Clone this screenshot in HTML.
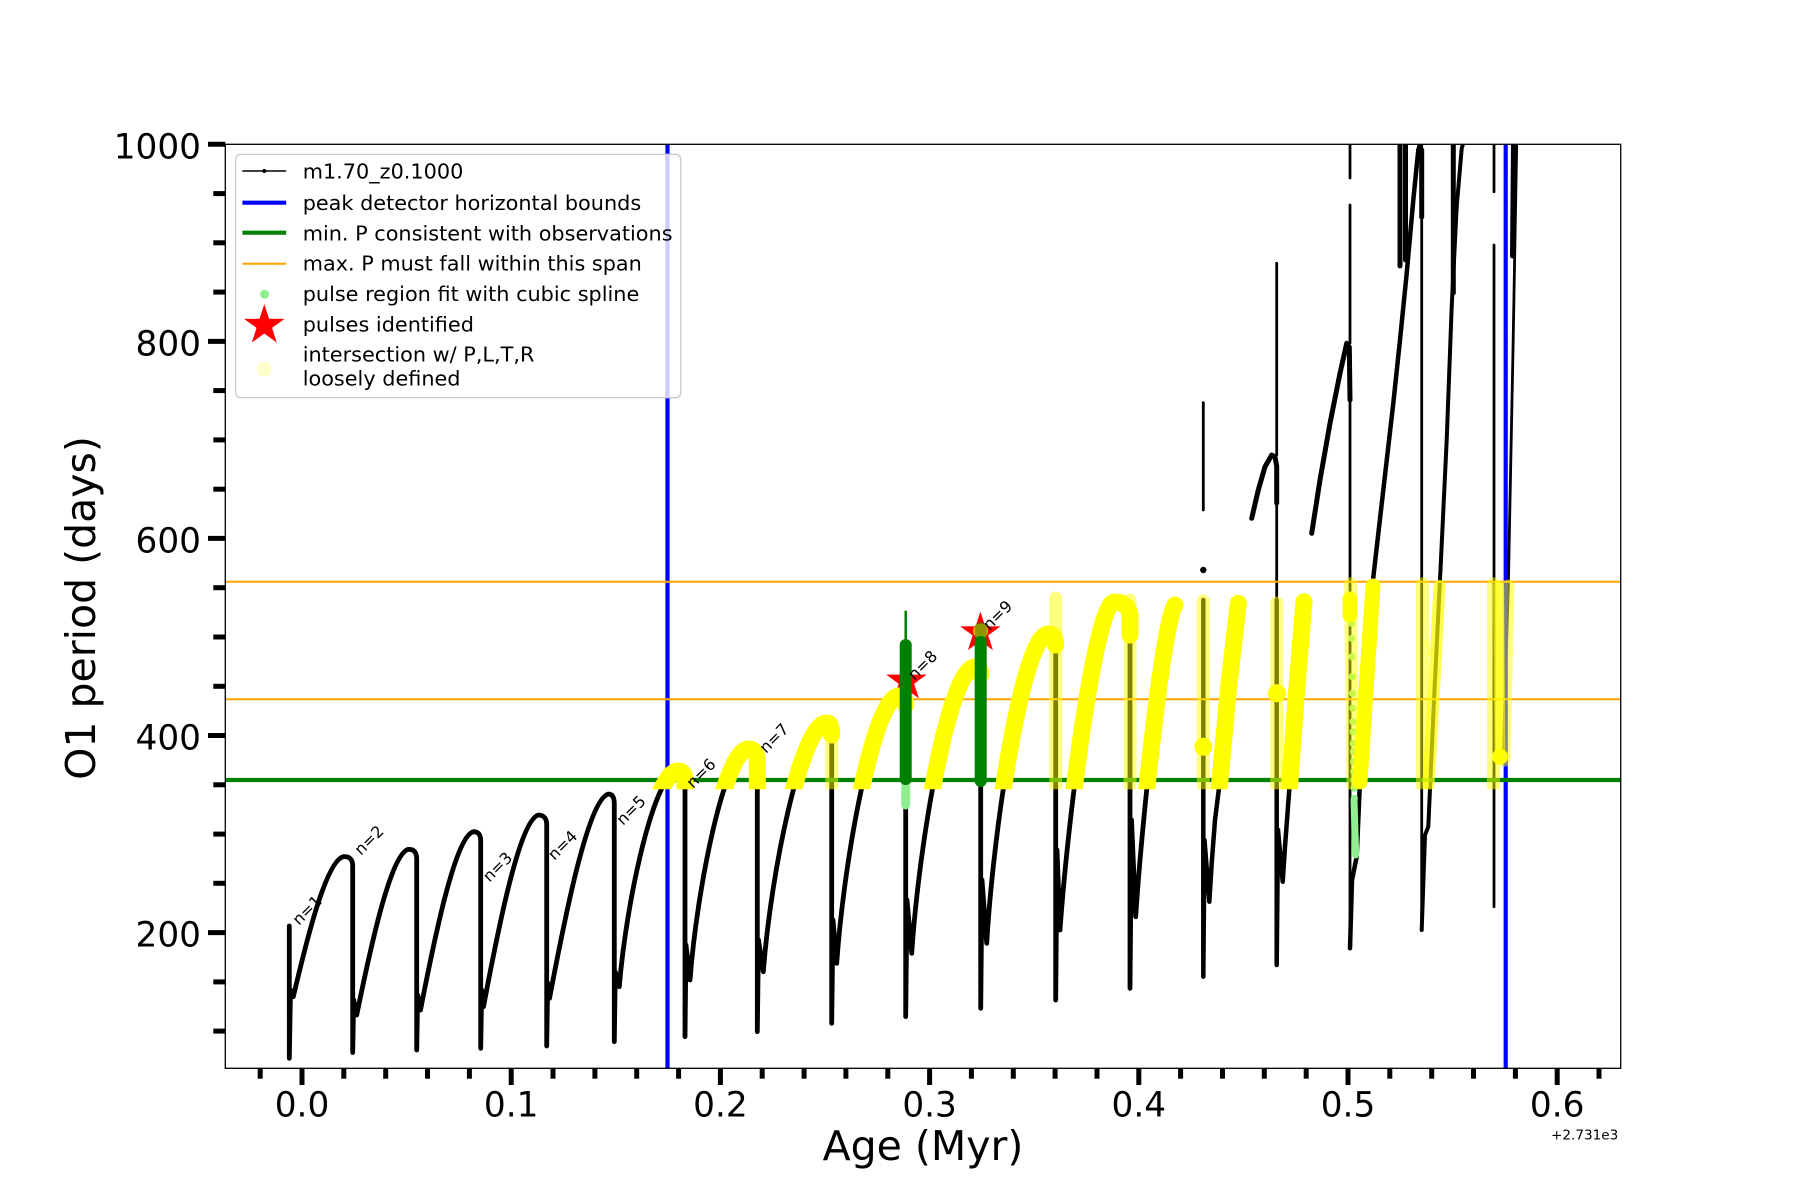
<!DOCTYPE html>
<html><head><meta charset="utf-8">
<style>
html,body{margin:0;padding:0;background:#fff;}
svg{display:block;}
text{font-family:"DejaVu Sans","Liberation Sans",sans-serif;fill:#000;}
</style></head>
<body>
<svg width="1800" height="1200" viewBox="0 0 1800 1200" xmlns="http://www.w3.org/2000/svg">
<defs>
<clipPath id="ca"><rect x="225.3" y="144.3" width="1395.4" height="924"/></clipPath>
<clipPath id="cy"><rect x="225.3" y="144.3" width="1395.4" height="645"/></clipPath>
</defs>
<rect width="1800" height="1200" fill="#fff"/>

<g clip-path="url(#ca)">
<!-- black main series -->
<g fill="none" stroke="#000" stroke-linejoin="round" stroke-linecap="round">
<path stroke-width="4.8" d="M 289.3,926 L 289.3,1058.3 L 290.5,990 L 293.3,996.7
C 305.8,943.5 325.8,860.9 343.3,856.7 Q 352.7,856 352.7,866 L 352.7,1052.5 L 353.7,1000 L 356.7,1015
C 369.6,952 390.2,854.3 408.3,849.3 Q 416.7,849 416.7,859 L 416.7,1050 L 417.7,995 L 420.5,1010
C 433.7,942.2 454.8,837 473.3,831.7 Q 480.7,831.5 480.7,841 L 480.7,1048.3 L 481.7,990 L 483.5,1006.7
C 497.2,933.9 519.1,820.8 538.3,815 Q 546.7,815 546.7,825 L 546.7,1046 L 547.7,983 L 549.5,998.3
C 564.2,920.7 587.7,800.1 608.3,794 Q 614.3,794 614.3,804 L 614.3,1041.7 L 615.3,972 L 619.3,986.7
C 626.3,900.4 654.5,771 678,771 Q 685,771 685,781 L 685,1036.7 L 686,945 L 690,980
C 697,887.6 725,749 748.3,749 Q 757.3,749 757.3,762 L 757.3,1031.7 L 758.5,940 L 763.3,971.7
C 770.9,872.2 801.3,723 826.7,723 Q 831.7,723 831.7,735 L 831.7,1023.3 L 833,920 L 836.7,963.3
C 844.2,856.4 874.1,696 899,696 Q 905.7,696 905.7,705 L 905.7,1016.7 L 907,900 L 911.7,953.3
C 919.3,838.8 949.7,667 975,667 Q 980.7,667 980.7,675 L 980.7,1008.3 L 982,880 L 986.7,943.3
C 994.1,819.6 1023.7,634 1048.3,634 Q 1055.7,634 1055.7,645 L 1055.7,1000 L 1057,850 L 1060,930
C 1068.1,815.2 1095.1,605.3 1114,602 Q 1128,602 1130,615 L 1130,988.3 L 1131.5,820 L 1135.7,916.7
C 1141.6,823.2 1163.2,620.6 1175,605"/>
<path stroke-width="4.5" d="M 1203.3,600 L 1203.3,976.7 L 1204.5,840 L 1209.3,901.7 L 1211.7,863.3 L 1215,820 L 1220,780 L 1228.3,690 L 1238.3,603.3"/>
<path stroke-width="4.5" d="M 1276.7,600 L 1276.7,965 L 1278,830 L 1282.7,881.7 L 1285,846.7 L 1290,780 L 1296.7,690 L 1304,601.7"/>
<path stroke-width="5" d="M 1251.7,518.3 L 1258.3,490 L 1265,466.7 L 1271.7,455 L 1275,457 L 1276.7,466 L 1276.7,503"/>
<path stroke-width="5" d="M 1311.7,533.3 L 1320,480 L 1330,423.3 L 1340,373.3 L 1346.7,343.3 L 1349.3,347 L 1350,400"/>
<path stroke-width="4.5" d="M 1350,948.3 L 1352,880 L 1356.7,856.7 L 1360,780 L 1366.7,680 L 1373,580 L 1383.3,490 L 1393.3,403.3 L 1400,340 L 1406.7,273.3 L 1413.3,200 L 1418.3,150 L 1420,144"/>
<path stroke-width="4" d="M 1421.7,930 L 1425,835 L 1428.3,826.7 L 1434,700 L 1440,580 L 1446.7,440 L 1451.7,306.7 L 1456.7,206.7 L 1461.7,148.3 L 1463,144"/>
<path stroke-width="2.8" d="M 1350,400 L 1350,948.3 M 1350,144 L 1350,178 M 1350,205 L 1350,343
M 1421.7,144 L 1421.7,930 M 1494,144 L 1494,191.7 M 1494,245 L 1494,906.7
M 1203.3,402.7 L 1203.3,510 M 1276.7,263.3 L 1276.7,455 M 1276.7,503 L 1276.7,600
M 1516.7,144 L 1513,350 L 1508.3,586.7 L 1503,763"/>
<path stroke-width="5" d="M 1421.7,150 L 1421.7,217 M 1400,144 L 1400,266 M 1405.5,144 L 1405.5,260 M 1453.3,144 L 1453.3,293 M 1513.5,144 L 1512.5,256"/>
</g>
<circle cx="1203.3" cy="570" r="3.2" fill="#000"/>

<!-- vertical bounds -->
<line x1="667.5" y1="144.3" x2="667.5" y2="1068.3" stroke="#0000ff" stroke-width="4.2"/>
<line x1="1505.7" y1="144.3" x2="1505.7" y2="1068.3" stroke="#0000ff" stroke-width="4.2"/>
<!-- horizontal lines -->
<line x1="225.3" y1="780" x2="1620.7" y2="780" stroke="#008000" stroke-width="4.2"/>
<line x1="225.3" y1="581.7" x2="1620.7" y2="581.7" stroke="#ffa500" stroke-width="2"/>
<line x1="225.3" y1="699.3" x2="1620.7" y2="699.3" stroke="#ffa500" stroke-width="2"/>

<!-- light green pulse fits -->
<g stroke="#90ee90" stroke-linecap="round" fill="none">
<line x1="905.7" y1="782" x2="905.7" y2="805" stroke-width="9"/>
<line x1="1354" y1="800" x2="1355.7" y2="855" stroke-width="7"/>
</g>
<g fill="#90ee90">
<circle cx="1351.5" cy="623.3" r="3.6"/><circle cx="1351.7" cy="638.3" r="3.6"/><circle cx="1352" cy="656.7" r="3.6"/>
<circle cx="1352.2" cy="676.7" r="3.6"/><circle cx="1352.5" cy="693.3" r="3.6"/><circle cx="1352.7" cy="708.3" r="3.6"/>
<circle cx="1352.9" cy="721.7" r="3.6"/><circle cx="1353" cy="731.7" r="3.6"/><circle cx="1353.2" cy="743.3" r="3.6"/>
<circle cx="1353.4" cy="751.7" r="3.6"/><circle cx="1353.6" cy="761.7" r="3.6"/><circle cx="1353.8" cy="771.7" r="3.6"/>
<circle cx="1354" cy="780" r="3.6"/><circle cx="1354.1" cy="788.3" r="3.6"/><circle cx="1354.3" cy="798.3" r="3.6"/>
</g>

<!-- stars -->
<polygon transform="translate(906.4,681.2)" fill="#ff0000" points="0,-21.3 4.78,-6.59 20.26,-6.58 7.74,2.52 12.52,17.23 0,8.14 -12.52,17.23 -7.74,2.52 -20.26,-6.58 -4.78,-6.59"/>
<polygon transform="translate(980.4,632.9)" fill="#ff0000" points="0,-21.3 4.78,-6.59 20.26,-6.58 7.74,2.52 12.52,17.23 0,8.14 -12.52,17.23 -7.74,2.52 -20.26,-6.58 -4.78,-6.59"/>
<circle cx="980.5" cy="631" r="7.5" fill="#ffb000"/>

<!-- yellow intersections -->
<g clip-path="url(#cy)" fill="none" stroke="#ffff00" stroke-linecap="round" stroke-linejoin="round">
<g stroke-width="17">
<path d="M 619.3,986.7 C 626.3,900.4 654.5,771 678,771 Q 685,771 685,781 L 685,800"/>
<path d="M 690,980 C 697,887.6 725,749 748.3,749 Q 757.3,749 757.3,762 L 757.3,800"/>
<path d="M 763.3,971.7 C 770.9,872.2 801.3,723 826.7,723 Q 831.7,723 831.7,735"/>
<path d="M 836.7,963.3 C 844.2,856.4 874.1,696 899,696 Q 905.7,696 905.7,705"/>
<path d="M 911.7,953.3 C 919.3,838.8 949.7,667 975,667 Q 980.7,667 980.7,675"/>
<path d="M 986.7,943.3 C 994.1,819.6 1023.7,634 1048.3,634 Q 1055.7,634 1055.7,645"/>
<path d="M 1060,930 C 1068.1,815.2 1095.1,605.3 1114,602 Q 1128,602 1130,615 L 1130,635"/>
<path d="M 1135.7,916.7 C 1141.6,823.2 1163.2,620.6 1175,605"/>
<path d="M 1209.3,901.7 L 1211.7,863.3 L 1215,820 L 1220,780 L 1228.3,690 L 1238.3,603.3"/>
<path d="M 1282.7,881.7 L 1285,846.7 L 1290,780 L 1296.7,690 L 1304,601.7"/>
</g>
<path stroke-width="15" d="M 1360,782 L 1366.7,680 L 1373,586"/>
<path stroke-width="12" stroke-opacity="0.7" d="M 1428.5,785 L 1434,690 L 1439.5,586"/>
<path stroke-width="11" stroke-opacity="0.6" d="M 1498.5,586 L 1500,757"/>
<g stroke-width="13" stroke-opacity="0.5">
<path d="M 831.7,735 L 831.7,786"/>
<path d="M 1055.7,598 L 1055.7,786"/>
<path d="M 1130,600 L 1130,786"/>
<path d="M 1203.3,601 L 1203.3,786"/>
<path d="M 1276.7,603 L 1276.7,786"/>
<path d="M 1350.5,584 L 1353,786"/>
<path d="M 1422.5,584 L 1422.5,786"/>
<path d="M 1493.5,584 L 1493.5,786"/>
<path d="M 1508,586 L 1504,760"/>
</g>
<path stroke-width="15" d="M 1350,599 L 1350,615"/>
</g>
<g fill="#ffff00">
<circle cx="1203.3" cy="746.7" r="9"/>
<circle cx="1277" cy="693.3" r="9"/>
<circle cx="1500" cy="756.7" r="8"/>
</g>

<!-- dark green pulse bands -->
<g stroke="#008000" stroke-linecap="round" fill="none">
<line x1="905.7" y1="645" x2="905.7" y2="779" stroke-width="12"/>
<line x1="905.7" y1="611.7" x2="905.7" y2="642" stroke-width="2.5"/>
<line x1="980.7" y1="642" x2="980.7" y2="781" stroke-width="12"/>
<line x1="980.7" y1="628" x2="980.7" y2="645" stroke-width="12" stroke-opacity="0.45"/>
</g>

<!-- n labels -->
<g font-size="16">
<text transform="translate(299,926) rotate(-45)">n=1</text>
<text transform="translate(361,856) rotate(-45)">n=2</text>
<text transform="translate(489.5,882.7) rotate(-45)">n=3</text>
<text transform="translate(554.5,861) rotate(-45)">n=4</text>
<text transform="translate(623,826) rotate(-45)">n=5</text>
<text transform="translate(693,789) rotate(-45)">n=6</text>
<text transform="translate(766,754) rotate(-45)">n=7</text>
<text transform="translate(914.5,681) rotate(-45)">n=8</text>
<text transform="translate(989.5,631) rotate(-45)">n=9</text>
</g>
</g>

<!-- legend -->
<rect x="235.7" y="154.3" width="445.1" height="243.4" rx="5" fill="#fff" fill-opacity="0.8" stroke="#cccccc" stroke-width="1.3"/>
<line x1="242.4" y1="171" x2="286.2" y2="171" stroke="#000" stroke-width="1.6"/>
<circle cx="264.3" cy="171" r="2" fill="#000"/>
<line x1="242.4" y1="202.7" x2="286.2" y2="202.7" stroke="#0000ff" stroke-width="4.2"/>
<line x1="242.4" y1="232.7" x2="286.2" y2="232.7" stroke="#008000" stroke-width="4.2"/>
<line x1="242.4" y1="263.7" x2="286.2" y2="263.7" stroke="#ffa500" stroke-width="2"/>
<circle cx="264.6" cy="294.3" r="4.5" fill="#90ee90"/>
<polygon transform="translate(264.3,325.4)" fill="#ff0000" points="0,-21.3 4.78,-6.59 20.26,-6.58 7.74,2.52 12.52,17.23 0,8.14 -12.52,17.23 -7.74,2.52 -20.26,-6.58 -4.78,-6.59"/>
<circle cx="264.3" cy="369.3" r="7.5" fill="#ffffcc"/>
<g font-size="20.8">
<text x="302.7" y="178.3">m1.70_z0.1000</text>
<text x="302.7" y="210">peak detector horizontal bounds</text>
<text x="302.7" y="240.5">min. P consistent with observations</text>
<text x="302.7" y="270.7">max. P must fall within this span</text>
<text x="302.7" y="301">pulse region fit with cubic spline</text>
<text x="302.7" y="331.5">pulses identified</text>
<text x="302.7" y="361.5">intersection w/ P,L,T,R</text>
<text x="302.7" y="385.5">loosely defined</text>
</g>

<!-- axes frame -->
<rect x="225.3" y="144.3" width="1395.4" height="924" fill="none" stroke="#000" stroke-width="1.3"/>

<!-- ticks -->
<g stroke="#000" stroke-width="5">
<line x1="208" y1="932.6" x2="225.3" y2="932.6"/>
<line x1="208" y1="735.5" x2="225.3" y2="735.5"/>
<line x1="208" y1="538.4" x2="225.3" y2="538.4"/>
<line x1="208" y1="341.4" x2="225.3" y2="341.4"/>
<line x1="208" y1="144.3" x2="225.3" y2="144.3"/>
<line x1="213.3" y1="1031.1" x2="225.3" y2="1031.1"/>
<line x1="213.3" y1="981.9" x2="225.3" y2="981.9"/>
<line x1="213.3" y1="883.3" x2="225.3" y2="883.3"/>
<line x1="213.3" y1="834.1" x2="225.3" y2="834.1"/>
<line x1="213.3" y1="784.8" x2="225.3" y2="784.8"/>
<line x1="213.3" y1="686.3" x2="225.3" y2="686.3"/>
<line x1="213.3" y1="637" x2="225.3" y2="637"/>
<line x1="213.3" y1="587.7" x2="225.3" y2="587.7"/>
<line x1="213.3" y1="489.2" x2="225.3" y2="489.2"/>
<line x1="213.3" y1="439.9" x2="225.3" y2="439.9"/>
<line x1="213.3" y1="390.6" x2="225.3" y2="390.6"/>
<line x1="213.3" y1="292.1" x2="225.3" y2="292.1"/>
<line x1="213.3" y1="242.8" x2="225.3" y2="242.8"/>
<line x1="213.3" y1="193.6" x2="225.3" y2="193.6"/>

<line x1="302" y1="1068.3" x2="302" y2="1085"/>
<line x1="511.2" y1="1068.3" x2="511.2" y2="1085"/>
<line x1="720.4" y1="1068.3" x2="720.4" y2="1085"/>
<line x1="929.6" y1="1068.3" x2="929.6" y2="1085"/>
<line x1="1138.8" y1="1068.3" x2="1138.8" y2="1085"/>
<line x1="1348" y1="1068.3" x2="1348" y2="1085"/>
<line x1="1557.2" y1="1068.3" x2="1557.2" y2="1085"/>
<line x1="260.2" y1="1068.3" x2="260.2" y2="1078.7"/>
<line x1="343.8" y1="1068.3" x2="343.8" y2="1078.7"/>
<line x1="385.7" y1="1068.3" x2="385.7" y2="1078.7"/>
<line x1="427.5" y1="1068.3" x2="427.5" y2="1078.7"/>
<line x1="469.4" y1="1068.3" x2="469.4" y2="1078.7"/>
<line x1="553" y1="1068.3" x2="553" y2="1078.7"/>
<line x1="594.9" y1="1068.3" x2="594.9" y2="1078.7"/>
<line x1="636.7" y1="1068.3" x2="636.7" y2="1078.7"/>
<line x1="678.6" y1="1068.3" x2="678.6" y2="1078.7"/>
<line x1="762.2" y1="1068.3" x2="762.2" y2="1078.7"/>
<line x1="804.1" y1="1068.3" x2="804.1" y2="1078.7"/>
<line x1="845.9" y1="1068.3" x2="845.9" y2="1078.7"/>
<line x1="887.8" y1="1068.3" x2="887.8" y2="1078.7"/>
<line x1="971.4" y1="1068.3" x2="971.4" y2="1078.7"/>
<line x1="1013.3" y1="1068.3" x2="1013.3" y2="1078.7"/>
<line x1="1055.1" y1="1068.3" x2="1055.1" y2="1078.7"/>
<line x1="1097" y1="1068.3" x2="1097" y2="1078.7"/>
<line x1="1180.6" y1="1068.3" x2="1180.6" y2="1078.7"/>
<line x1="1222.5" y1="1068.3" x2="1222.5" y2="1078.7"/>
<line x1="1264.3" y1="1068.3" x2="1264.3" y2="1078.7"/>
<line x1="1306.2" y1="1068.3" x2="1306.2" y2="1078.7"/>
<line x1="1389.8" y1="1068.3" x2="1389.8" y2="1078.7"/>
<line x1="1431.7" y1="1068.3" x2="1431.7" y2="1078.7"/>
<line x1="1473.5" y1="1068.3" x2="1473.5" y2="1078.7"/>
<line x1="1515.4" y1="1068.3" x2="1515.4" y2="1078.7"/>
<line x1="1599" y1="1068.3" x2="1599" y2="1078.7"/>
</g>

<!-- tick labels -->
<g font-size="34.3" text-anchor="end">
<text x="201" y="946.6">200</text>
<text x="201" y="749.5">400</text>
<text x="201" y="552.4">600</text>
<text x="201" y="355.4">800</text>
<text x="201" y="158.3">1000</text>
</g>
<g font-size="34.3" text-anchor="middle">
<text x="302" y="1116.7">0.0</text>
<text x="511.2" y="1116.7">0.1</text>
<text x="720.4" y="1116.7">0.2</text>
<text x="929.6" y="1116.7">0.3</text>
<text x="1138.8" y="1116.7">0.4</text>
<text x="1348" y="1116.7">0.5</text>
<text x="1557.2" y="1116.7">0.6</text>
</g>
<text x="1618.3" y="1139.3" font-size="13.6" text-anchor="end">+2.731e3</text>

<!-- axis labels -->
<text x="923" y="1160" font-size="41" text-anchor="middle">Age (Myr)</text>
<text transform="translate(95,608) rotate(-90)" font-size="41" text-anchor="middle">O1 period (days)</text>
</svg>
</body></html>
